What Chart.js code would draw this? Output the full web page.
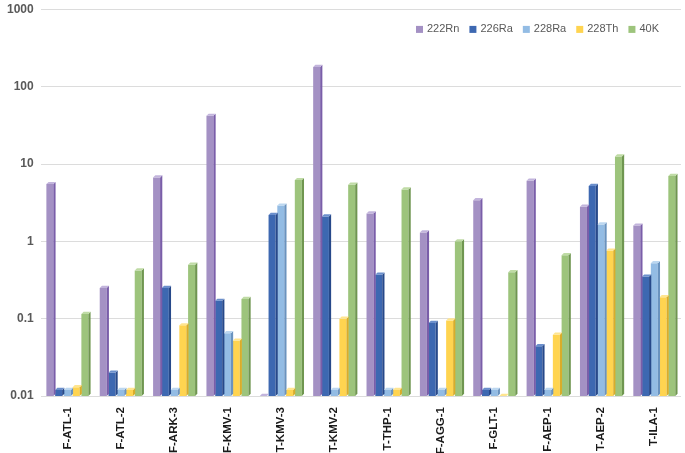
<!DOCTYPE html>
<html><head><meta charset="utf-8">
<script src="https://cdn.jsdelivr.net/npm/chart.js@4"></script>
<style>html,body{margin:0;padding:0;background:#fff}#wrap{width:685px;height:453px;position:relative}</style>
</head><body><div id="wrap"><canvas id="c"></canvas></div>
<script>
const categories = ["F-ATL-1","F-ATL-2","F-ARK-3","F-KMV-1","T-KMV-3","T-KMV-2","T-THP-1","F-AGG-1","F-GLT-1","F-AEP-1","T-AEP-2","T-ILA-1"];
const rn222 = [5.5, 0.25, 6.7, 42, 0.0098, 180, 2.3, 1.3, 3.4, 6.1, 2.8, 1.6];
const ra226 = [0.012, 0.02, 0.25, 0.17, 2.2, 2.1, 0.37, 0.088, 0.012, 0.044, 5.2, 0.35];
const ra228 = [0.012, 0.012, 0.012, 0.065, 2.9, 0.012, 0.012, 0.012, 0.012, 0.012, 1.65, 0.52];
const th228 = [0.013, 0.012, 0.082, 0.052, 0.012, 0.1, 0.012, 0.095, 0.0098, 0.062, 0.76, 0.19];
const k40 = [0.115, 0.42, 0.5, 0.18, 6.2, 5.4, 4.7, 1.0, 0.4, 0.66, 12.5, 7.0];
const seriesNames = ["222Rn","226Ra","228Ra","228Th","40K"];
const yTicks = [0.01, 0.1, 1, 10, 100, 1000];

const faces = ["#a491c4","#3d68b1","#93bce4","#ffd450","#9dc47c"];
const sides = ["#7a5ea9","#27498a","#6a93bf","#d9ad2a","#6f9650"];
const tops  = ["#c2b4dc","#6b8fcc","#bcd7f0","#ffe58f","#bfdba5"];

const bar3d = {
  id: 'bar3d',
  afterDatasetsDraw(chart) {
    const ctx = chart.ctx, d = 2.2;
    ctx.save();
    chart.data.datasets.forEach((ds, i) => {
      const meta = chart.getDatasetMeta(i);
      meta.data.forEach(el => {
        const p = el.getProps(['x','y','base','width'], true);
        const l = p.x - p.width/2, r = p.x + p.width/2;
        const top = Math.min(p.y, p.base), bot = p.base;
        ctx.fillStyle = sides[i];
        ctx.beginPath();
        ctx.moveTo(r, top); ctx.lineTo(r + d, top - d); ctx.lineTo(r + d, bot - d); ctx.lineTo(r, bot); ctx.closePath(); ctx.fill();
        ctx.fillStyle = tops[i];
        ctx.beginPath();
        ctx.moveTo(l, top); ctx.lineTo(l + d, top - d); ctx.lineTo(r + d, top - d); ctx.lineTo(r, top); ctx.closePath(); ctx.fill();
      });
    });
    ctx.restore();
  }
};

const innerLegend = {
  id: 'innerLegend',
  afterDraw(chart) {
    const ctx = chart.ctx, ca = chart.chartArea;
    ctx.save();
    ctx.font = '11px "Liberation Sans"';
    ctx.textBaseline = 'middle';
    const box = 7, gapBox = 4, gapItem = 10;
    const items = chart.data.datasets.map((ds, i) => ({ text: ds.label, color: faces[i], w: ctx.measureText(ds.label).width }));
    const total = items.reduce((s, it) => s + box + gapBox + it.w, 0) + gapItem * (items.length - 1);
    let x = ca.right - 22 - total;
    const y = ca.top + 20;
    items.forEach(it => {
      ctx.fillStyle = it.color;
      ctx.fillRect(x, y - box/2, box, box);
      x += box + gapBox;
      ctx.fillStyle = '#595959';
      ctx.fillText(it.text, x, y);
      x += it.w + gapItem;
    });
    ctx.restore();
  }
};

const allSeries = [rn222, ra226, ra228, th228, k40];
new Chart(document.getElementById('c'), {
  type: 'bar',
  data: {
    labels: categories,
    datasets: allSeries.map((v, i) => ({
      label: seriesNames[i], data: v, backgroundColor: faces[i], borderWidth: 0,
      categoryPercentage: 0.82, barPercentage: 0.8
    }))
  },
  options: {
    responsive: true, maintainAspectRatio: false, animation: false,
    layout: { padding: { left: 0, right: 4, top: 0, bottom: 0 } },
    plugins: {
      legend: { display: false },
      tooltip: { enabled: false }
    },
    scales: {
      x: {
        grid: { display: false },
        border: { display: false },
        afterFit(scale) { scale.height = 57; },
        ticks: { minRotation: 90, maxRotation: 90, color: '#1a1a1a', padding: 3,
          font: { family: 'Liberation Sans', size: 11.5, weight: 'bold' } }
      },
      y: {
        type: 'logarithmic', min: 0.01, max: 1000,
        afterBuildTicks(scale) { scale.ticks = yTicks.map(v => ({ value: v })); },
        grid: { color: '#dcdcdc', drawTicks: false },
        border: { display: false },
        ticks: { color: '#595959', padding: 7,
          font: { family: 'Liberation Sans', size: 12, weight: 'bold', lineHeight: 0.4 },
          callback: v => String(v) }
      }
    }
  },
  plugins: [bar3d, innerLegend]
});
</script></body></html>
